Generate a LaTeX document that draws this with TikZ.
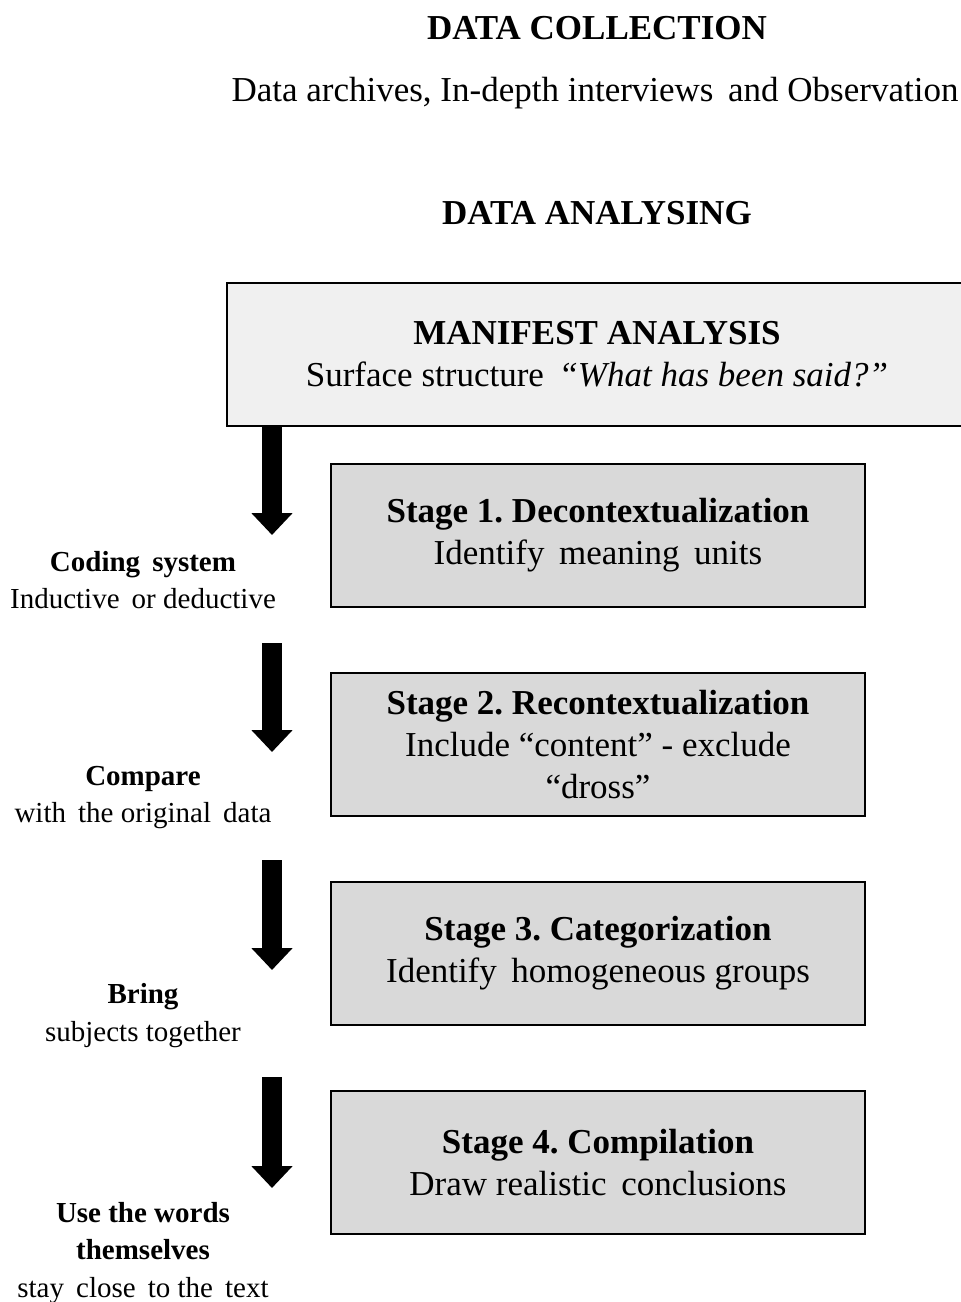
\documentclass[tikz,border=0pt]{standalone}
\usepackage{fontspec}
\setmainfont{Liberation Serif}
\usetikzlibrary{arrows.meta,positioning}
\frenchspacing

\begin{document}
\begin{tikzpicture}[x=1pt,y=-1pt,node distance=209pt,on grid,
    heading/.style={font=\fontsize{35}{40}\selectfont\bfseries},
    plain/.style={font=\fontsize{35}{40}\selectfont},
    mainbox/.style={draw,line width=1.3pt,fill=black!6,minimum width=740pt,minimum height=143pt,align=center,font=\fontsize{35}{42}\selectfont},
    stagebox/.style={draw,line width=1.3pt,fill=black!15,minimum width=534pt,minimum height=143pt,align=center,font=\fontsize{35}{42}\selectfont},
    sidetext/.style={align=center,font=\fontsize{29}{37.5}\selectfont},
    bigarrow/.style={line width=20pt,-{Triangle[length=22pt,width=40pt]}}]
  \clip (0,0) rectangle (961,1302);
  \node[heading] (coll) at (597,28) {DATA COLLECTION};
  \node[plain] (src) at (595,93) {Data archives, In-depth interviews\, and Observation};
  \node[heading] (anal) at (597,213) {DATA ANALYSING};
  \node[mainbox] (manifest) at (597,354.5) {\textbf{MANIFEST ANALYSIS}\\Surface structure \,\textit{“What has been said?”}};
  \node[stagebox] (s1) at (598,535.5) {\textbf{Stage 1. Decontextualization}\\Identify\, meaning\, units};
  \node[stagebox] (s2) [below=of s1] {\textbf{Stage 2. Recontextualization}\\Include “content” - exclude\\“dross”};
  \node[stagebox] (s3) [below=of s2] {\textbf{Stage 3. Categorization}\\Identify\, homogeneous groups};
  \node[stagebox] (s4) [below=of s3] {\textbf{Stage 4. Compilation}\\Draw realistic\, conclusions};
  % labels beside the arrows
  \node[sidetext] (l1) at (143,580) {\textbf{Coding\, system}\\Inductive\, or deductive};
  \node[sidetext] (l2) at (143,797.5) {\textbf{Compare}\\with\, the original\, data};
  \node[sidetext] (l3) at (143,1015.5) {\textbf{Bring}\\subjects together};
  \node[sidetext] (l4) at (143,1253) {\textbf{Use the words}\\\textbf{themselves}\\stay\, close\, to the\, text};
  % arrow ends
  \coordinate (a1) at (272,535);
  \coordinate (b2) at (272,643); \coordinate (a2) at (272,752);
  \coordinate (b3) at (272,860); \coordinate (a3) at (272,970);
  \coordinate (b4) at (272,1077); \coordinate (a4) at (272,1188);
  \draw[bigarrow] (manifest.south -| a1) -- (a1);
  \draw[bigarrow] (b2) -- (a2);
  \draw[bigarrow] (b3) -- (a3);
  \draw[bigarrow] (b4) -- (a4);
\end{tikzpicture}
\end{document}
